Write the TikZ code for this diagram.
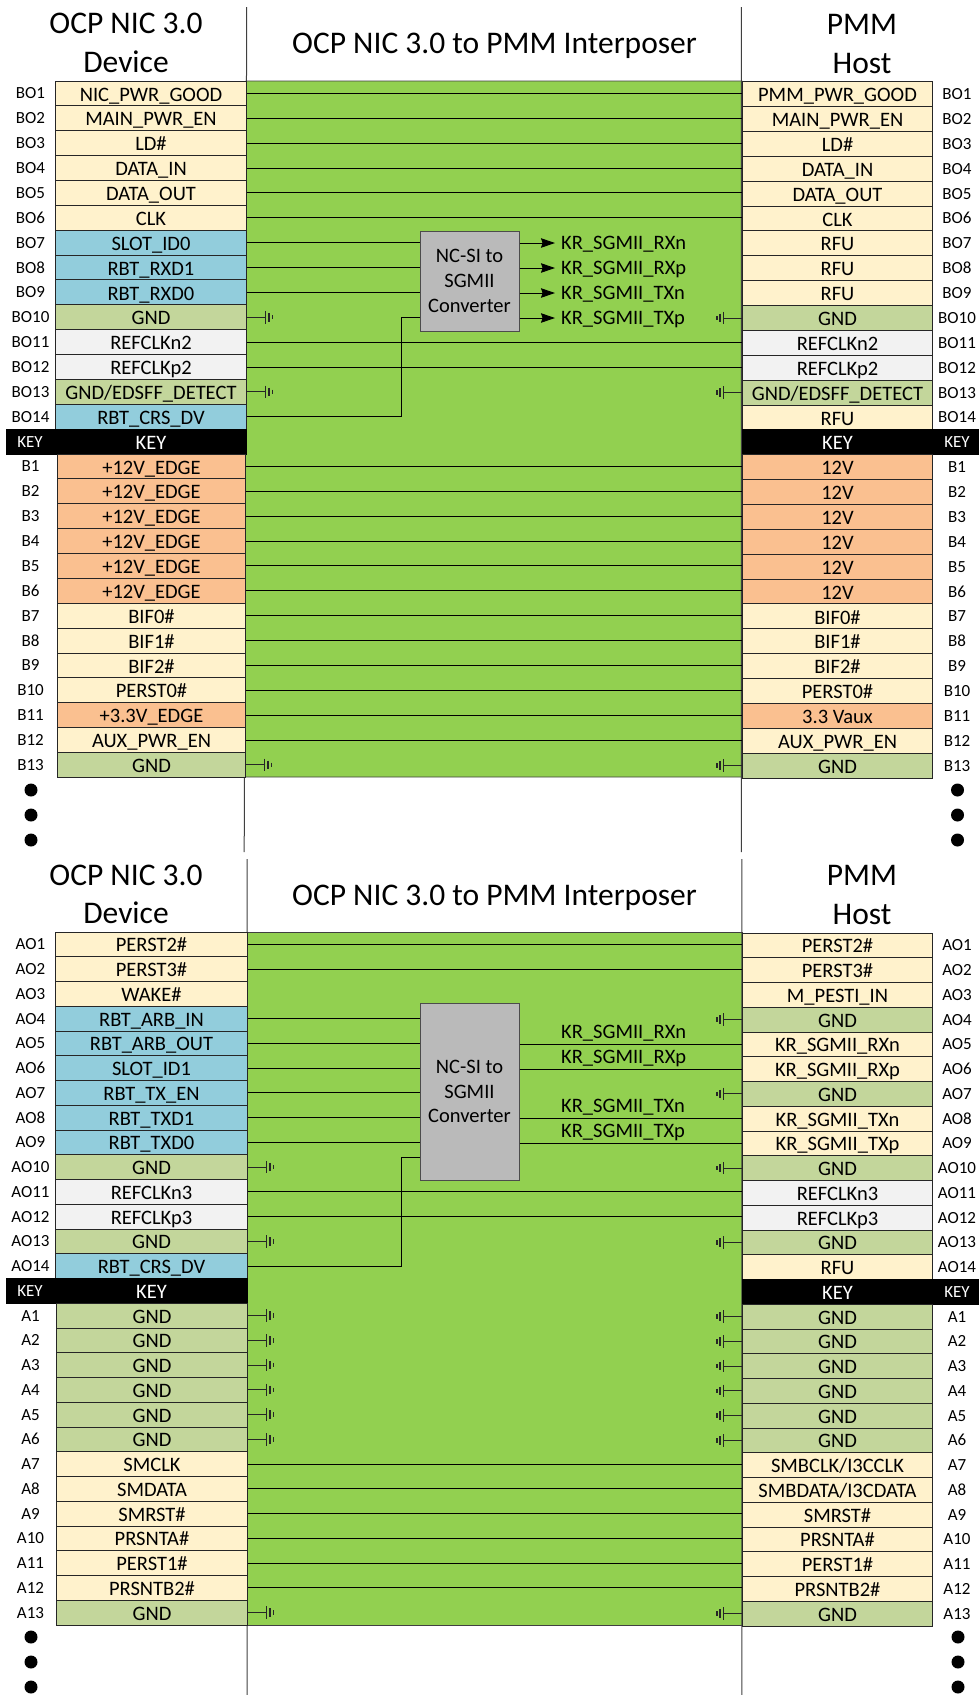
\documentclass[tikz,border=0pt]{standalone}
\usepackage{fontspec}
\setmainfont{Carlito}
\usetikzlibrary{arrows.meta}
\definecolor{cream}{HTML}{FFF2CC}
\definecolor{teal}{HTML}{92CDDC}
\definecolor{gndg}{HTML}{C3D69B}
\definecolor{clkg}{HTML}{F2F2F2}
\definecolor{pwr}{HTML}{FAC090}
\definecolor{panel}{HTML}{92D050}
\definecolor{conv}{HTML}{BABABA}
\definecolor{vline}{HTML}{404040}
\newcommand\rowfont{\fontsize{20.5}{24.7}\selectfont}
\newcommand\pinfont{\fontsize{17}{20}\selectfont}
\newcommand\titlefont{\fontsize{31.5}{36}\selectfont}
\tikzset{
  x=1pt,y=-1pt,
  cell/.style={draw=black!85,line width=1pt,inner sep=0pt,minimum height=\secPitch pt,text height=15.2pt,text depth=0pt,font=\rowfont,anchor=west},
  pin/.style={inner sep=0pt,font=\pinfont,text height=11pt,text depth=0pt},
  wire/.style={draw=black,line width=1pt},
  title/.style={font=\titlefont,inner sep=0pt,text height=20.3pt,text depth=0pt},
  dotm/.style={circle,fill=black,minimum size=13pt,inner sep=0pt},
  convbox/.style={draw=black!70,fill=conv,line width=1pt,font=\rowfont,align=center,minimum width=99pt,inner sep=0pt},
  krlab/.style={font=\rowfont,inner xsep=6pt,inner ysep=0pt,anchor=west,text height=13.2pt,text depth=0pt},
  gndsym/.pic={
    \draw[draw=black!85,line width=0.9pt] (0,0) -- (18.5,0);
    \draw[draw=black!85,line width=1.5pt] (18.5,-6.3) -- (18.5,6.3);
    \draw[draw=black!85,line width=1.4pt] (22,-4.3) -- (22,4.3);
    \draw[draw=black!85,line width=1.6pt] (25.3,-2.2) -- (25.3,2.2);
  },
}
% \prow{section}{index}{pin}{left colour}{left text}{right colour}{right text}
\newcommand\prow[7]{%
  \pgfmathsetmacro\rowy{\secTop+\secPitch*(#2-0.5)}%
  \pgfmathsetmacro\rowyr{\rowy+\secOff}%
  \pgfmathsetmacro\colw{\secLB-\secLA}%
  \node[cell,fill=#4,minimum width=\colw pt] (l#1#2) at (\secLA,\rowy) {#5};
  \node[cell,fill=#6,minimum width=190pt] (r#1#2) at (742,\rowyr) {#7};
  \node[pin] (pl#1#2) at (30.5,\rowy) {#3};
  \node[pin] (pr#1#2) at (957,\rowyr) {#3};
}
\newcommand\krow[2]{%
  \pgfmathsetmacro\rowy{\secTop+\secPitch*(#2-0.5)}%
  \pgfmathsetmacro\rowyr{\rowy+\secOff}%
  \pgfmathsetmacro\colw{\secLB-6}%
  \node[cell,fill=black,text=white,draw=black,minimum width=\colw pt,align=center,text width=\colw pt] (l#1#2) at (6,\rowy) {\hspace*{49pt}KEY};
  \node[cell,fill=black,text=white,draw=black,minimum width=237pt,anchor=west] (r#1#2) at (742,\rowyr) {\hspace*{-47pt}KEY};
  \node[pin,text=white] (pl#1#2) at (30,\rowy) {KEY};
  \node[pin,text=white] (pr#1#2) at (957,\rowyr) {KEY};
}
\newcommand\strt[2]{\draw[wire] (l#1#2.east) -- (l#1#2.east -| r#1#2.west);}
\newcommand\gndboth[2]{%
  \path (l#1#2.east) pic {gndsym};
  \path (r#1#2.west) pic[xscale=-1] {gndsym};
}
\newcommand\gndright[2]{\path (r#1#2.west) pic[xscale=-1] {gndsym};}
\begin{document}
\begin{tikzpicture}
\useasboundingbox (0,0) rectangle (979,1695);
\fill[panel,draw=black!75,line width=0.8pt] (246,81) -- (742,81) -- (742,777) -- (245,777) -- cycle;
\fill[panel,draw=black!75,line width=0.8pt] (247,932) -- (742,932) -- (742,1625) -- (247,1625) -- cycle;
\coordinate (vla) at (246.7,7); \coordinate (vlb) at (244.2,852);
\coordinate (vra) at (741.3,7); \coordinate (vrb) at (741.3,852);
\coordinate (vlc) at (247,859); \coordinate (vld) at (247,1695);
\coordinate (vrc) at (741.8,859); \coordinate (vrd) at (741.8,1695);
\draw[vline,line width=1pt] (vla) -- (vlb) (vra) -- (vrb) (vlc) -- (vld) (vrc) -- (vrd);

\def\secTop{81}\def\secPitch{24.87}\def\secOff{0.7}\def\secLA{55}\def\secLB{246}
\prow{u}{1}{BO1}{cream}{NIC\_PWR\_GOOD}{cream}{PMM\_PWR\_GOOD}
\prow{u}{2}{BO2}{cream}{MAIN\_PWR\_EN}{cream}{MAIN\_PWR\_EN}
\prow{u}{3}{BO3}{cream}{LD\#}{cream}{LD\#}
\prow{u}{4}{BO4}{cream}{DATA\_IN}{cream}{DATA\_IN}
\prow{u}{5}{BO5}{cream}{DATA\_OUT}{cream}{DATA\_OUT}
\prow{u}{6}{BO6}{cream}{CLK}{cream}{CLK}
\prow{u}{7}{BO7}{teal}{SLOT\_ID0}{cream}{RFU}
\prow{u}{8}{BO8}{teal}{RBT\_RXD1}{cream}{RFU}
\prow{u}{9}{BO9}{teal}{RBT\_RXD0}{cream}{RFU}
\prow{u}{10}{BO10}{gndg}{GND}{gndg}{GND}
\prow{u}{11}{BO11}{clkg}{REFCLKn2}{clkg}{REFCLKn2}
\prow{u}{12}{BO12}{clkg}{REFCLKp2}{clkg}{REFCLKp2}
\prow{u}{13}{BO13}{gndg}{GND/EDSFF\_DETECT}{gndg}{GND/EDSFF\_DETECT}
\prow{u}{14}{BO14}{teal}{RBT\_CRS\_DV}{cream}{RFU}
\krow{u}{15}
\def\secLA{57}\def\secLB{245}
\prow{u}{16}{B1}{pwr}{+12V\_EDGE}{pwr}{12V}
\prow{u}{17}{B2}{pwr}{+12V\_EDGE}{pwr}{12V}
\prow{u}{18}{B3}{pwr}{+12V\_EDGE}{pwr}{12V}
\prow{u}{19}{B4}{pwr}{+12V\_EDGE}{pwr}{12V}
\prow{u}{20}{B5}{pwr}{+12V\_EDGE}{pwr}{12V}
\prow{u}{21}{B6}{pwr}{+12V\_EDGE}{pwr}{12V}
\prow{u}{22}{B7}{cream}{BIF0\#}{cream}{BIF0\#}
\prow{u}{23}{B8}{cream}{BIF1\#}{cream}{BIF1\#}
\prow{u}{24}{B9}{cream}{BIF2\#}{cream}{BIF2\#}
\prow{u}{25}{B10}{cream}{PERST0\#}{cream}{PERST0\#}
\prow{u}{26}{B11}{pwr}{+3.3V\_EDGE}{pwr}{3.3 Vaux}
\prow{u}{27}{B12}{cream}{AUX\_PWR\_EN}{cream}{AUX\_PWR\_EN}
\prow{u}{28}{B13}{gndg}{GND}{gndg}{GND}

\def\secTop{932}\def\secPitch{24.75}\def\secOff{1}\def\secLA{55}\def\secLB{247}
\prow{d}{1}{AO1}{cream}{PERST2\#}{cream}{PERST2\#}
\prow{d}{2}{AO2}{cream}{PERST3\#}{cream}{PERST3\#}
\prow{d}{3}{AO3}{cream}{WAKE\#}{cream}{M\_PESTI\_IN}
\prow{d}{4}{AO4}{teal}{RBT\_ARB\_IN}{gndg}{GND}
\prow{d}{5}{AO5}{teal}{RBT\_ARB\_OUT}{cream}{KR\_SGMII\_RXn}
\prow{d}{6}{AO6}{teal}{SLOT\_ID1}{cream}{KR\_SGMII\_RXp}
\prow{d}{7}{AO7}{teal}{RBT\_TX\_EN}{gndg}{GND}
\prow{d}{8}{AO8}{teal}{RBT\_TXD1}{cream}{KR\_SGMII\_TXn}
\prow{d}{9}{AO9}{teal}{RBT\_TXD0}{cream}{KR\_SGMII\_TXp}
\prow{d}{10}{AO10}{gndg}{GND}{gndg}{GND}
\prow{d}{11}{AO11}{clkg}{REFCLKn3}{clkg}{REFCLKn3}
\prow{d}{12}{AO12}{clkg}{REFCLKp3}{clkg}{REFCLKp3}
\prow{d}{13}{AO13}{gndg}{GND}{gndg}{GND}
\prow{d}{14}{AO14}{teal}{RBT\_CRS\_DV}{cream}{RFU}
\krow{d}{15}
\def\secLA{56}
\prow{d}{16}{A1}{gndg}{GND}{gndg}{GND}
\prow{d}{17}{A2}{gndg}{GND}{gndg}{GND}
\prow{d}{18}{A3}{gndg}{GND}{gndg}{GND}
\prow{d}{19}{A4}{gndg}{GND}{gndg}{GND}
\prow{d}{20}{A5}{gndg}{GND}{gndg}{GND}
\prow{d}{21}{A6}{gndg}{GND}{gndg}{GND}
\prow{d}{22}{A7}{cream}{SMCLK}{cream}{SMBCLK/I3CCLK}
\prow{d}{23}{A8}{cream}{SMDATA}{cream}{SMBDATA/I3CDATA}
\prow{d}{24}{A9}{cream}{SMRST\#}{cream}{SMRST\#}
\prow{d}{25}{A10}{cream}{PRSNTA\#}{cream}{PRSNTA\#}
\prow{d}{26}{A11}{cream}{PERST1\#}{cream}{PERST1\#}
\prow{d}{27}{A12}{cream}{PRSNTB2\#}{cream}{PRSNTB2\#}
\prow{d}{28}{A13}{gndg}{GND}{gndg}{GND}

\node[title] (t1) at (126,23) {OCP NIC 3.0};
\node[title] (t2) at (126,62) {Device};
\node[title] (t3) at (494.5,43) {OCP NIC 3.0 to PMM Interposer};
\node[title] (t4) at (862,24) {PMM};
\node[title] (t5) at (862,63) {Host};
\node[title] (t6) at (126,875) {OCP NIC 3.0};
\node[title] (t7) at (126,913) {Device};
\node[title] (t8) at (494.5,895) {OCP NIC 3.0 to PMM Interposer};
\node[title] (t9) at (862,875) {PMM};
\node[title] (t10) at (862,914) {Host};

\node[convbox,minimum height=100pt] (cu) at (469.5,281) {NC-SI to\\SGMII\\Converter};
\node[convbox,minimum height=177pt] (cd) at (469.5,1091.5) {NC-SI to\\SGMII\\Converter};

\foreach \i in {1,2,3,4,5,6,11,12,16,17,18,19,20,21,22,23,24,25,26,27} {\strt{u}{\i}}
\foreach \i in {7,8,9} {\draw[wire] (lu\i.east) -- (lu\i.east -| cu.west);}
\foreach \i in {10,13,28} {\gndboth{u}{\i}}
\coordinate (cui) at (420,317);
\draw[wire] (lu14.east) -| (401,317) -- (cui);
\node[krlab] (k1) at (555,243) {KR\_SGMII\_RXn};
\node[krlab] (k2) at (555,268) {KR\_SGMII\_RXp};
\node[krlab] (k3) at (555,293) {KR\_SGMII\_TXn};
\node[krlab] (k4) at (555,318) {KR\_SGMII\_TXp};
\foreach \k in {k1,k2,k3,k4} {\draw[wire,-{Stealth[length=14pt,width=9.5pt,inset=1.5pt]}] (\k.west -| cu.east) -- (\k.west);}

\foreach \i in {1,2,11,12,22,23,24,25,26,27} {\strt{d}{\i}}
\foreach \i in {4,5,6,7,8,9} {\draw[wire] (ld\i.east) -- (ld\i.east -| cd.west);}
\foreach \i in {10,13,16,17,18,19,20,21,28} {\gndboth{d}{\i}}
\foreach \i in {4,7} {\gndright{d}{\i}}
\coordinate (cdi) at (420,1157);
\draw[wire] (ld14.east) -| (401,1157) -- (cdi);
\foreach \i in {5,6,8,9} {\draw[wire] (rd\i.west -| cd.east) -- (rd\i.west);}
\node[krlab] (k5) at (555,1032) {KR\_SGMII\_RXn};
\node[krlab] (k6) at (555,1057) {KR\_SGMII\_RXp};
\node[krlab] (k7) at (555,1106) {KR\_SGMII\_TXn};
\node[krlab] (k8) at (555,1131) {KR\_SGMII\_TXp};

\foreach \y/\n in {790/a,815/b,840/c} {
  \node[dotm] (dl\n) at (31,\y) {};
  \node[dotm] (dr\n) at (957.5,\y) {};
}
\foreach \y/\n in {1637/d,1662/e,1687/f} {
  \node[dotm] (dl\n) at (31,\y) {};
  \node[dotm] (dr\n) at (958,\y) {};
}
\end{tikzpicture}
\end{document}
